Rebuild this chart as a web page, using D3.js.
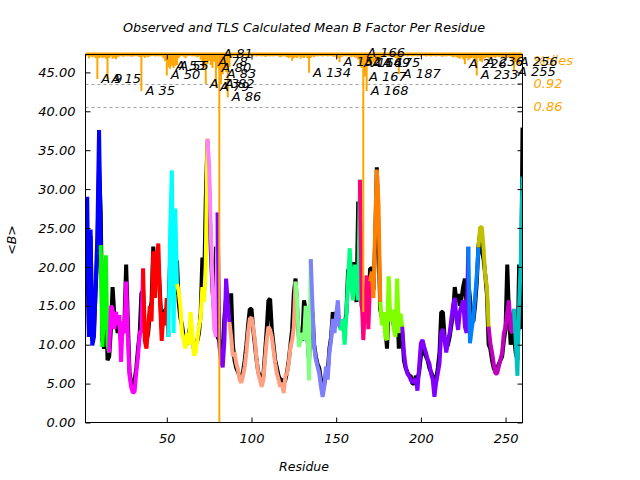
<!DOCTYPE html>
<html><head><meta charset="utf-8">
<script src="https://cdn.jsdelivr.net/npm/d3@7"></script>
<style>
body{margin:0;background:#fff}
text{font-family:"DejaVu Sans",sans-serif;font-style:italic}
</style>
</head><body>
<svg id="c" width="640" height="480"></svg>
<script>
// ---------------- data ----------------
const firstResidue = 2;
const lastResidue = 260;

// TLS calculated mean B per residue (residues 2..260)
const tlsB = [
 18.0,29.0,11.0,24.8,9.9,11.0,17.5,24.0,37.6,22.8,
 9.7,15.0,21.5,10.0,9.0,15.0,14.6,12.0,14.2,12.5,
 13.8,7.8,13.0,11.5,18.1,11.0,6.0,4.5,3.8,4.0,
 6.5,8.5,11.5,11.8,19.8,10.5,9.5,12.3,15.0,13.0,
 22.0,16.0,21.0,23.0,15.5,10.5,14.2,12.5,16.0,11.0,
 25.0,32.4,11.5,27.5,17.8,16.9,15.0,11.5,10.6,9.5,
 11.5,10.0,14.2,11.5,8.6,9.0,10.6,12.3,13.5,17.4,
 15.5,20.3,36.5,33.0,24.4,17.4,12.0,11.0,27.0,10.0,
 8.0,7.1,10.5,18.5,15.5,12.9,11.0,8.5,9.0,7.6,
 6.8,5.5,5.1,6.0,7.2,9.0,11.5,13.3,13.5,12.3,
 10.6,8.1,6.3,5.5,4.6,5.5,8.1,10.6,12.3,11.9,
 11.0,9.3,7.6,6.3,5.5,4.6,5.1,3.8,6.0,6.3,
 7.6,9.7,10.6,12.3,18.1,15.7,9.7,10.6,11.5,10.6,
 15.0,12.3,5.4,21.0,15.0,9.7,8.1,7.2,6.3,4.6,
 3.3,4.6,7.2,5.5,9.0,10.6,13.3,11.5,13.8,15.7,
 12.3,11.9,13.3,10.0,13.8,18.1,22.4,17.4,15.7,20.3,
 18.1,15.7,31.2,16.6,10.6,15.0,18.9,12.0,18.1,19.4,
 16.0,24.8,32.5,28.0,15.5,12.5,14.2,11.0,10.6,18.8,
 13.0,14.5,12.0,11.0,18.5,11.5,14.0,12.3,9.0,7.2,
 6.3,6.0,5.5,5.1,5.5,5.5,4.1,7.2,10.2,10.6,
 9.7,9.0,8.1,7.6,6.3,5.5,3.3,5.1,6.3,7.6,
 11.5,12.0,10.6,9.0,10.6,11.5,13.3,15.0,16.0,13.3,
 11.9,14.2,15.0,15.7,12.3,11.5,22.6,10.2,12.0,13.5,
 16.0,18.9,22.5,25.1,25.1,22.4,18.9,17.4,12.3,10.2,
 9.0,7.6,6.3,6.3,7.2,8.1,9.0,11.5,12.3,14.2,
 15.7,11.9,11.5,14.6,10.6,6.0,15.0,20.8,31.6
];

// Observed mean B per residue (residues 2..260)
const obsB = [
 28.0,22.0,12.0,24.0,10.5,12.0,17.0,22.0,33.0,27.0,
 10.5,9.5,16.0,8.0,8.5,12.0,17.4,14.0,13.0,11.5,
 12.5,10.5,11.8,13.0,20.3,13.0,6.5,5.0,4.5,5.5,
 7.0,9.5,11.5,16.6,17.0,11.5,10.5,11.5,14.0,15.5,
 22.6,18.0,19.0,20.5,16.5,12.0,13.5,14.5,14.5,15.0,
 21.0,27.5,18.0,16.5,20.8,15.5,13.5,12.5,11.0,10.5,
 10.0,11.5,12.5,10.5,9.5,10.0,10.5,11.5,14.0,21.2,
 17.0,28.6,36.2,30.0,22.0,17.0,14.0,22.6,11.0,10.5,
 9.5,9.0,13.5,16.0,15.5,14.0,16.6,10.0,8.0,7.0,
 6.5,6.0,5.5,6.5,8.0,10.0,12.5,14.6,14.6,12.0,
 10.0,8.0,6.5,6.0,5.0,6.0,9.0,12.0,15.7,15.9,
 12.0,10.0,8.0,7.0,6.0,5.5,5.5,5.0,5.5,6.5,
 8.0,10.0,12.0,16.6,18.5,14.5,11.0,11.5,10.5,15.7,
 14.5,11.0,8.0,15.0,14.0,10.0,8.5,7.5,7.0,5.5,
 4.5,5.0,6.5,6.5,9.5,11.0,14.2,12.5,13.0,14.0,
 12.5,12.0,13.0,12.5,14.0,19.5,20.0,18.0,20.6,16.5,
 15.5,28.4,27.0,15.0,14.2,14.0,15.0,14.0,19.8,19.8,
 17.0,23.0,32.8,24.0,14.5,13.5,13.0,12.5,9.5,15.0,
 14.0,13.5,12.5,12.0,15.0,9.5,13.0,11.5,8.0,7.0,
 6.5,6.0,6.0,5.0,5.0,6.0,5.5,6.5,8.5,9.5,
 9.0,8.5,8.0,7.0,6.5,6.0,5.0,5.5,7.0,9.0,
 14.2,14.2,11.0,9.5,10.0,11.0,12.5,14.0,17.4,15.7,
 16.5,15.0,16.0,17.5,18.5,15.0,18.0,16.0,13.0,13.0,
 15.0,18.0,22.7,24.4,22.0,21.0,19.0,16.5,10.0,9.5,
 8.0,7.0,6.5,7.0,7.5,8.0,8.5,10.5,12.0,20.3,
 14.0,10.0,12.0,11.0,9.0,8.0,20.3,12.0,37.9
];

// percentile per residue (residues 2..260), drawn hanging from the top
const pctile = [
 .990,.992,.985,.990,.988,.990,.985,.932,.986,.988,
 .985,.988,.984,.932,.986,.990,.984,.986,.983,.988,
 .990,.991,.989,.990,.992,.990,.991,.989,.990,.991,
 .992,.990,.988,.901,.990,.986,.990,.988,.990,.991,
 .992,.990,.991,.990,.992,.990,.985,.978,.941,.962,
 .958,.966,.960,.966,.968,.985,.990,.991,.989,.985,
 .990,.991,.992,.990,.991,.990,.988,.990,.982,.975,
 .962,.919,.970,.978,.968,.960,.976,.910,.961,.020,
 .919,.944,.955,.950,.884,.962,.985,.990,.991,.992,
 .990,.991,.992,.990,.991,.990,.988,.990,.991,.990,
 .992,.990,.991,.992,.990,.991,.989,.990,.991,.990,
 .992,.990,.991,.992,.990,.988,.990,.991,.990,.988,
 .986,.988,.979,.985,.988,.986,.990,.984,.988,.986,
 .990,.985,.948,.986,.990,.988,.991,.990,.992,.991,
 .990,.992,.991,.990,.992,.991,.990,.989,.990,.986,
 .975,.988,.990,.991,.990,.992,.990,.988,.990,.988,
 .986,.982,.972,.960,.330,.938,.901,.972,.968,.970,
 .975,.972,.978,.972,.985,.988,.990,.991,.992,.990,
 .991,.990,.988,.986,.984,.944,.986,.990,.991,.992,
 .990,.991,.992,.990,.991,.992,.990,.991,.990,.992,
 .991,.990,.992,.991,.990,.992,.991,.990,.992,.991,
 .990,.989,.991,.990,.992,.991,.990,.988,.990,.988,
 .986,.984,.988,.982,.970,.986,.980,.984,.986,.985,
 .983,.941,.986,.978,.975,.984,.986,.988,.985,.988,
 .990,.988,.986,.990,.988,.990,.986,.988,.990,.986,
 .988,.985,.978,.951,.975,.982,.970,.985,.988
];

// TLS groups: first residue of each group and its colour
const groupStarts = [2,11,16,36,51,56,74,80,87,126,135,152,164,170,176,189,228,234,240,255];
const groupColors = ["#0000ff","#00ff00","#ff00ff","#ff0000","#00ffff","#ffff00","#ff80ff","#8000ff",
  "#ffa080","#80ff80","#8080ff","#00ff80","#ff0080","#ff8000","#80ff00","#8000ff","#0080ff",
  "#c0c000","#c000c0","#00c0c0"];

// labelled residues (chain A) and the percentile level where each label sits
const labelChain = "A";
const labelResidues = [9,15,35,50,53,55,73,78,79,80,81,82,83,86,134,152,164,166,167,168,169,175,187,226,236,233,255,256];
const labelLevels   = [.932,.932,.901,.941,.966,.966,.919,.976,.910,.961,.997,.919,.944,.884,.948,.975,.972,1.0,.938,.901,.972,.972,.944,.970,.975,.941,.951,.975];

const yTicks = [0,5,10,15,20,25,30,35,40,45];
const xTicks = [50,100,150,200,250];
const pctTicks = [0.98,0.92,0.86];
const pctTickLabels = ["%tiles","0.92","0.86"];
const pctRefLines = [0.92,0.86];

const titleText = "Observed and TLS Calculated Mean B Factor Per Residue";
const xTitle = "Residue";
const yTitle = "<B>";

// ---------------- drawing ----------------
const svg = d3.select("#c");
const L = 85.5, R = 522.5, T = 54.5, B = 422.5;
const x = d3.scaleLinear().domain([firstResidue, lastResidue]).range([L, R]);
const y = d3.scaleLinear().domain([0, 47.3]).range([B, T]);
const y2 = d3.scaleLinear().domain([0.045, 0.995]).range([B, T]);

const residues = tlsB.map((_, i) => firstResidue + i);

svg.append("defs").append("clipPath").attr("id","clip")
  .append("rect").attr("x", L).attr("y", 40).attr("width", R - L).attr("height", B - 40);

// reference dotted lines
svg.append("g").selectAll("line").data(pctRefLines).join("line")
  .attr("x1", L).attr("x2", R)
  .attr("y1", d => Math.round(y2(d)) + 0.5).attr("y2", d => Math.round(y2(d)) + 0.5)
  .attr("stroke", "#a0a0a0").attr("stroke-width", 1).attr("stroke-dasharray", "3,3");

const plot = svg.append("g").attr("clip-path", "url(#clip)");
const line = d3.line().x(d => x(d[0])).y(d => y(d[1]));

// observed (black)
plot.append("path")
  .datum(residues.map((r, i) => [r, obsB[i]]))
  .attr("d", line).attr("fill", "none").attr("stroke", "#000")
  .attr("stroke-width", 4).attr("stroke-linejoin", "bevel");

// TLS (coloured per group)
groupStarts.forEach((s, gi) => {
  const e = gi + 1 < groupStarts.length ? groupStarts[gi + 1] : lastResidue;
  const pts = residues.map((r, i) => [r, tlsB[i]]).filter(d => d[0] >= s && d[0] <= e);
  plot.append("path").datum(pts).attr("d", line)
    .attr("fill", "none").attr("stroke", groupColors[gi])
    .attr("stroke-width", 4).attr("stroke-linejoin", "bevel");
});

// percentile bars hanging from the top
plot.append("g").selectAll("line").data(residues.map((r, i) => [r, pctile[i]])).join("line")
  .attr("x1", d => x(d[0])).attr("x2", d => x(d[0]))
  .attr("y1", y2(1.0)).attr("y2", d => Math.min(y2(d[1]), B))
  .attr("stroke", "#ffa500").attr("stroke-width", 2);

// border
svg.append("rect").attr("x", L).attr("y", T).attr("width", R - L).attr("height", B - T)
  .attr("fill", "none").attr("stroke", "#000").attr("stroke-width", 1);

// axes
const fmt = d3.format(".2f");
const gl = svg.append("g").attr("transform", `translate(${L},0)`)
  .call(d3.axisLeft(y).tickValues(yTicks).tickFormat(fmt).tickSize(-5).tickPadding(10));
const gr = svg.append("g").attr("transform", `translate(${R},0)`)
  .call(d3.axisRight(y).tickValues(yTicks).tickFormat("").tickSize(-5));
const gb = svg.append("g").attr("transform", `translate(0,${B})`)
  .call(d3.axisBottom(x).tickValues(xTicks).tickSize(-5).tickPadding(11));
const gt = svg.append("g").attr("transform", `translate(0,${T})`)
  .call(d3.axisTop(x).tickValues(xTicks).tickFormat("").tickSize(-5));
const gr2 = svg.append("g").attr("transform", `translate(${R},0)`)
  .call(d3.axisRight(y2).tickValues(pctTicks).tickFormat((d, i) => pctTickLabels[i]).tickSize(-5).tickPadding(11));

[gl, gr, gb, gt, gr2].forEach(g => {
  g.select(".domain").remove();
  g.selectAll("line").attr("stroke", "#000");
  g.selectAll("text").attr("fill", "#000").style("font-size", "13px")
    .style("font-family", "'DejaVu Sans',sans-serif").style("font-style", "italic");
});
gr2.selectAll("text").attr("fill", "#ffa500");
gr2.selectAll("line").attr("stroke", "#000");

// labels
svg.append("g").selectAll("text").data(labelResidues).join("text")
  .attr("x", d => x(d) + 4)
  .attr("y", (d, i) => y2(labelLevels[i]) + 4)
  .attr("fill", "#000").style("font-size", "13px")
  .text(d => `${labelChain} ${d}`);

// titles
svg.append("text").attr("x", (L + R) / 2).attr("y", 32).attr("text-anchor", "middle")
  .style("font-size", "12.7px").attr("fill", "#000").text(titleText);
svg.append("text").attr("x", (L + R) / 2).attr("y", 471).attr("text-anchor", "middle")
  .style("font-size", "12.5px").attr("fill", "#000").text(xTitle);
svg.append("text").attr("transform", "translate(16,240) rotate(-90)").attr("text-anchor", "middle")
  .style("font-size", "12.5px").attr("fill", "#000").text(yTitle);
</script>
</body></html>
